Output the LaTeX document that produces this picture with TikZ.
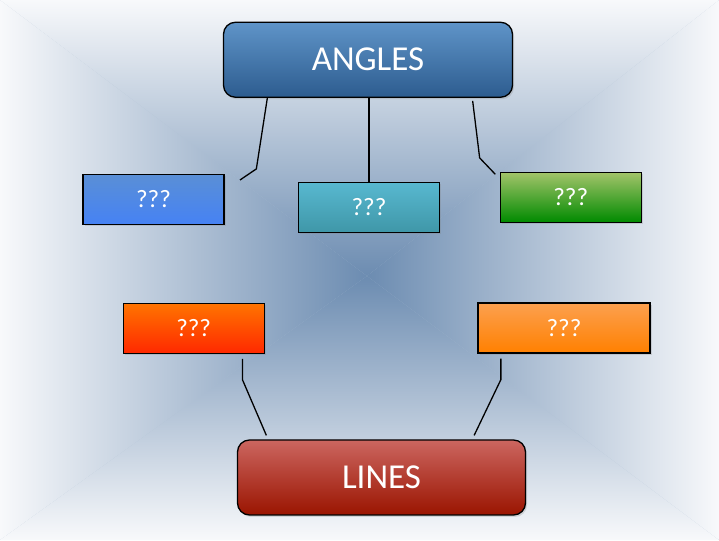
\documentclass[tikz,border=0pt]{standalone}
\usepackage{fontspec}
\setmainfont{Carlito}
\usetikzlibrary{shadows,fadings}

% background tones
\definecolor{bgedge}{HTML}{F8F9FB}
\definecolor{bgmid}{HTML}{6C8CB1}
\definecolor{bgcore}{HTML}{3F6D9C}
% box tones
\definecolor{angtop}{HTML}{5F94C8}\definecolor{angbot}{HTML}{2D5C8F}
\definecolor{bltop}{HTML}{5A8FD6}\definecolor{blbot}{HTML}{4682F4}
\definecolor{tltop}{HTML}{58B8D0}\definecolor{tlbot}{HTML}{3F97A8}
\definecolor{grtop}{HTML}{A3C46A}\definecolor{grbot}{HTML}{008A00}
\definecolor{rdtop}{HTML}{FF7400}\definecolor{rdbot}{HTML}{FF2800}
\definecolor{ortop}{HTML}{FCA04F}\definecolor{orbot}{HTML}{FF8000}
\definecolor{lntop}{HTML}{CC6660}\definecolor{lnbot}{HTML}{9A1400}

% radial mask: mostly opaque in the middle, clear at the rim
\pgfdeclareradialshading{glowmask}{\pgfpointorigin}{%
  color(0bp)=(white!75!black); color(15bp)=(white!45!black);
  color(35bp)=(white!12!black); color(50bp)=(black)}
\pgfdeclarefading{coreglow}{\pgfuseshading{glowmask}}

\tikzset{
  box/.style={draw=black, line width=1.3pt, inner sep=0pt, text=white,
    drop shadow={opacity=0.25, shadow xshift=1.5pt, shadow yshift=-2pt}},
  bigbox/.style={box, rounded corners=12pt, minimum width=289pt,
    minimum height=75pt, font=\fontsize{35}{40}\selectfont},
  qbox/.style={box, minimum width=141pt, minimum height=50pt,
    font=\fontsize{25}{29}\selectfont},
  link/.style={draw=black, line width=1.3pt}
}

\begin{document}
\begin{tikzpicture}[x=1pt,y=1pt]
  \useasboundingbox (0,0) rectangle (719,540);

  % backdrop: rectangular gradient towards a dark centre
  \coordinate (ctr) at (367,264);
  \fill[bgmid!50!bgedge] (0,0) rectangle (719,540);
  \shade[top color=bgedge, bottom color=bgmid] (0,540) -- (719,540) -- (ctr) -- cycle;
  \shade[bottom color=bgedge, top color=bgmid] (0,0) -- (719,0) -- (ctr) -- cycle;
  \shade[left color=bgedge, right color=bgmid] (0,0) -- (0,540) -- (ctr) -- cycle;
  \shade[right color=bgedge, left color=bgmid] (719,0) -- (719,540) -- (ctr) -- cycle;
  % darker core, the mask scaled so its clear rim meets the ellipse edge
  \fill[bgcore, path fading=coreglow, fit fading=false,
        fading transform={xscale=3.786, yscale=3.387}]
    (ctr) ellipse (190 and 170);

  % boxes
  \node[bigbox, top color=angtop, bottom color=angbot] (angles) at (368,480.25) {ANGLES};
  \node[qbox, top color=bltop, bottom color=blbot] (q1) at (153.5,340.75) {???};
  \node[qbox, top color=tltop, bottom color=tlbot] (q2) at (369,332.8) {???};
  \node[qbox, top color=grtop, bottom color=grbot] (q3) at (570.75,342.75) {???};
  \node[qbox, top color=rdtop, bottom color=rdbot] (q4) at (193.7,211.7) {???};
  \node[qbox, top color=ortop, bottom color=orbot, minimum width=172pt] (q5) at (564,212) {???};
  \node[bigbox, top color=lntop, bottom color=lnbot, minimum width=288pt] (lines) at (381.5,62.5) {LINES};

  % connectors from ANGLES
  \coordinate (e1) at (240,360);
  \coordinate (e3) at (495.3,365.7);
  \draw[link] ([xshift=44.5pt]angles.south west) -- ++(-11,-71) -- (e1);
  \draw[link] (q2.north) -- (q2.north |- angles.south);
  \draw[link] ([xshift=-40.5pt,yshift=-3pt]angles.south east) -- ++(7,-57) -- (e3);

  % connectors to LINES
  \draw[link] ([xshift=-22.3pt,yshift=-5pt]q4.south east) -- ++(0,-21)
    -- ([xshift=29.5pt,yshift=4pt]lines.north west);
  \draw[link] ([xshift=23.5pt,yshift=-5pt]q5.south west) -- ++(0,-21)
    -- ([xshift=-52pt,yshift=4pt]lines.north east);
\end{tikzpicture}
\end{document}
